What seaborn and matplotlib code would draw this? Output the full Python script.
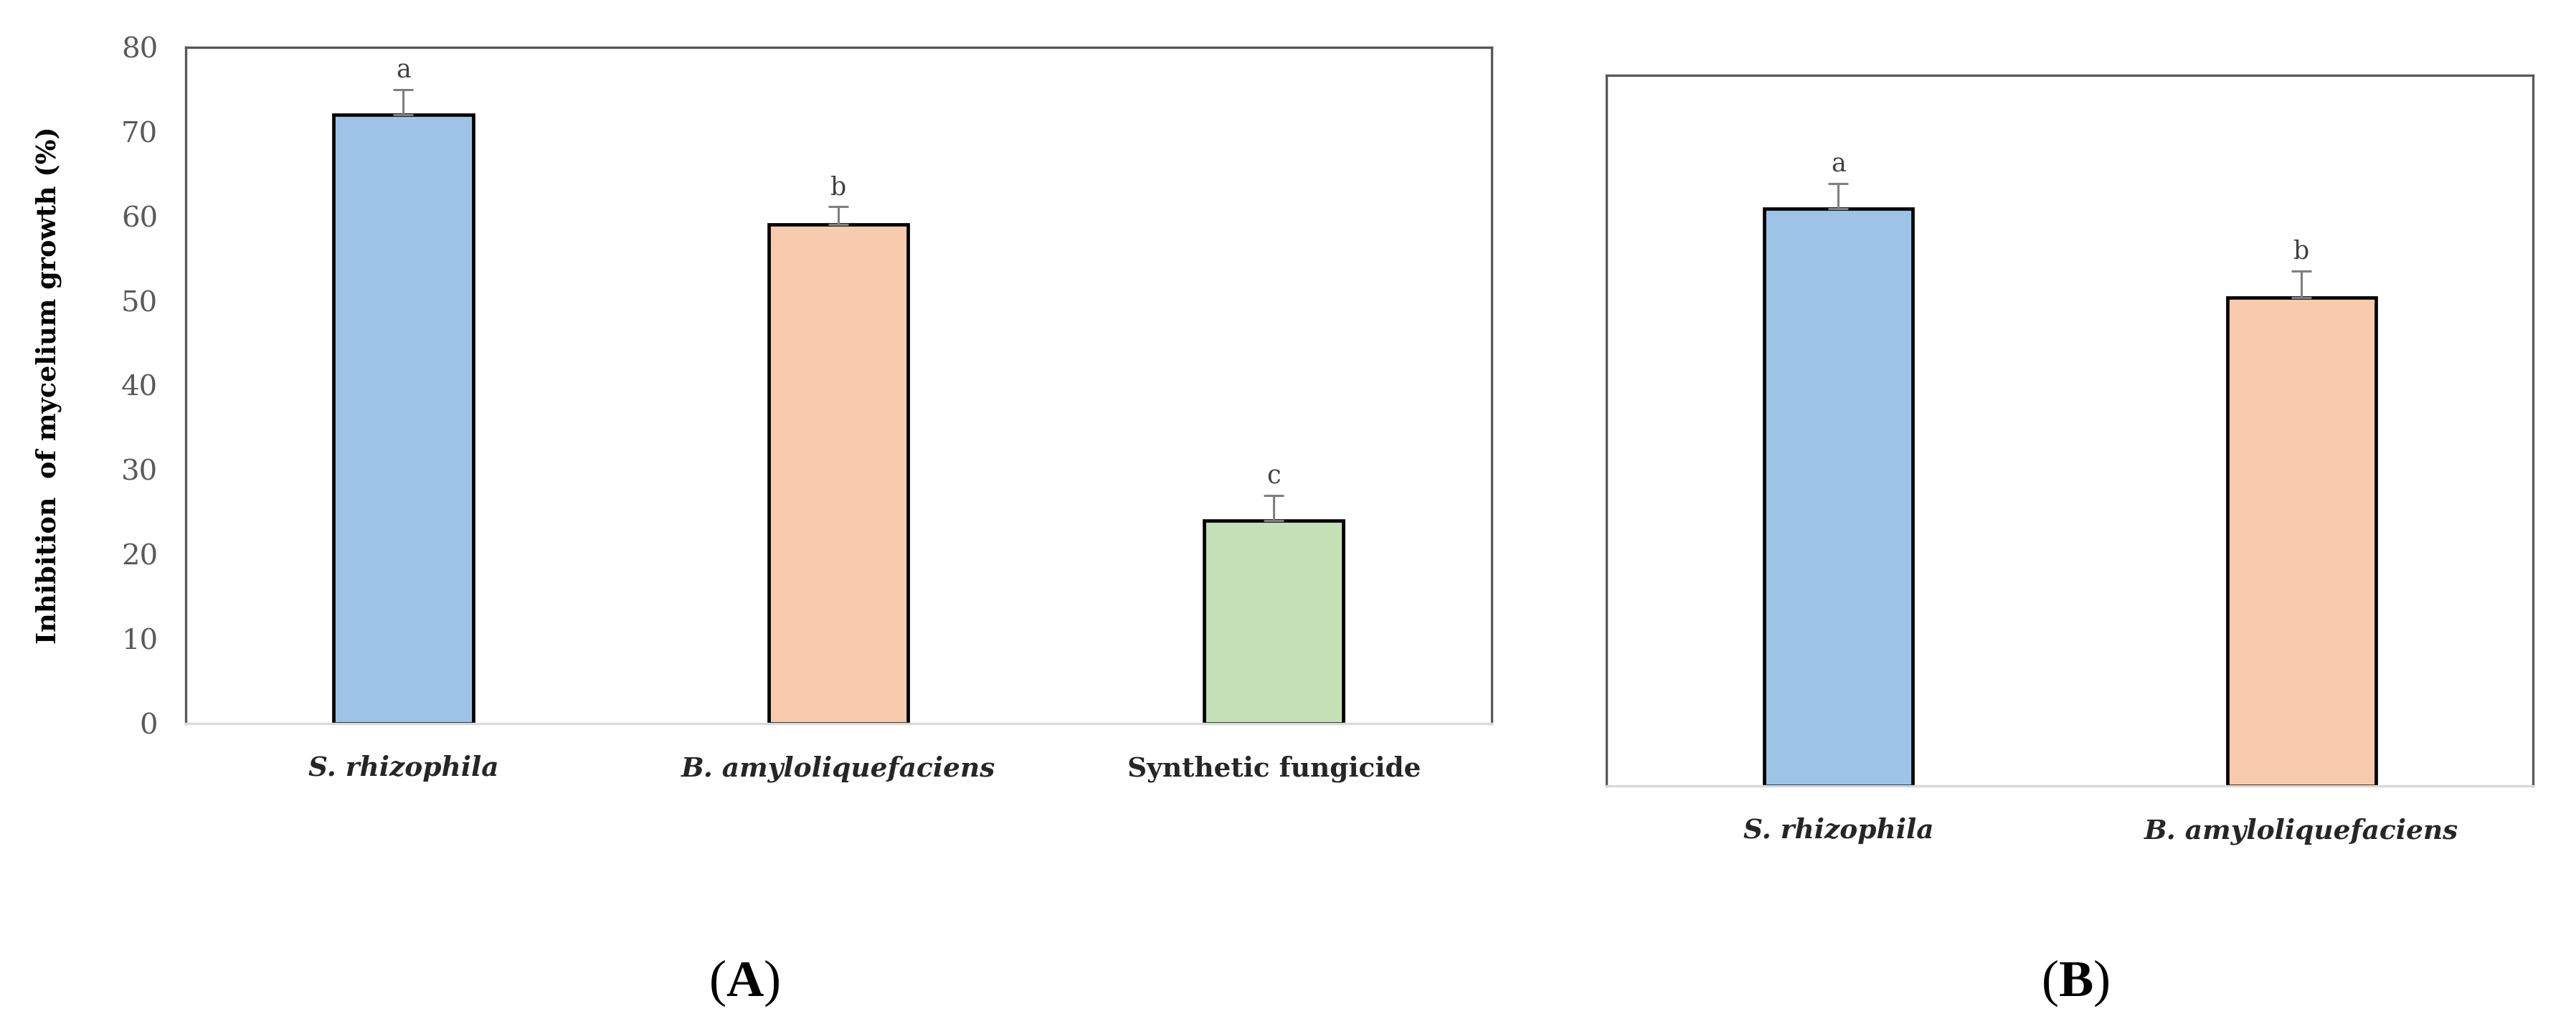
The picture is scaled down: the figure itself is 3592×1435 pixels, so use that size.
import matplotlib
matplotlib.use("Agg")
import matplotlib.pyplot as plt
import seaborn as sns
import pandas as pd
import numpy as np

# ---- data ----
cats_a = ["S. rhizophila", "B. amyloliquefaciens", "Synthetic fungicide"]
vals_a = [72.0, 59.0, 24.0]
errs_a = [3.0, 2.2, 3.0]
letters_a = ["a", "b", "c"]

cats_b = ["S. rhizophila", "B. amyloliquefaciens"]
vals_b = [65.0, 55.0]
errs_b = [2.8, 3.0]
letters_b = ["a", "b"]

colors = ["#9DC3E6", "#F8CBAD", "#C5E0B4"]
yticks_a = [0, 10, 20, 30, 40, 50, 60, 70, 80]
ylabel = "Inhibition  of mycelium growth (%)"

sns.set_theme(style="white")
plt.rcParams["font.family"] = ["DejaVu Serif"]
plt.rcParams["mathtext.fontset"] = "custom"
plt.rcParams["mathtext.bf"] = "Liberation Serif:bold"
plt.rcParams["mathtext.rm"] = "Liberation Serif"

W, H, DPI = 3592, 1435, 200
fig = plt.figure(figsize=(W / DPI, H / DPI), dpi=DPI)

axA = fig.add_axes([0.0721, 0.297, 0.579 - 0.0721, 0.954 - 0.297])
axB = fig.add_axes([0.6237, 0.2364, 0.9834 - 0.6237, 0.9265 - 0.2364])


def draw(ax, cats, vals, errs, letters, show_y):
    df = pd.DataFrame({"cat": cats, "val": vals})
    sns.barplot(data=df, x="cat", y="val", hue="cat", palette=colors[:len(cats)],
                width=0.32, edgecolor="black", linewidth=1.7, legend=False,
                errorbar=None, ax=ax, saturation=1)
    xs = np.arange(len(cats))
    ax.errorbar(xs, vals, yerr=[np.zeros(len(vals)), errs], fmt="none",
                ecolor="#7F7F7F", elinewidth=1.1, capsize=5, capthick=1.1, zorder=1)
    for x, v, e, l in zip(xs, vals, errs, letters):
        ax.text(x, v + e + 0.8, l, ha="center", va="bottom", fontsize=12.5,
                color="#404040", family="DejaVu Serif")
    ax.set_xlim(-0.5, len(cats) - 0.5)
    ax.set_ylim(0, 80)
    ax.set_xlabel("")
    ax.set_ylabel("")
    ax.tick_params(axis="both", length=0)
    ax.set_xticks(xs)
    ax.set_xticklabels(list(cats), fontsize=13.5, fontweight="bold", color="#262626")
    for t in ax.get_xticklabels():
        if t.get_text() != "Synthetic fungicide":
            t.set_fontstyle("italic")
    ax.tick_params(axis="x", pad=16)
    for s in ["left", "top", "right"]:
        ax.spines[s].set_color("#595959")
        ax.spines[s].set_linewidth(1.2)
        ax.spines[s].set_visible(True)
    ax.spines["bottom"].set_color("#D9D9D9")
    ax.spines["bottom"].set_linewidth(1.2)
    ax.spines["bottom"].set_visible(True)
    if show_y:
        ax.set_yticks(yticks_a)
        ax.set_yticklabels([str(v) for v in yticks_a], fontsize=14.5, color="#595959")
        ax.tick_params(axis="y", pad=14)
        ax.set_ylabel(ylabel, fontsize=13.2, fontweight="bold", color="black", labelpad=30)
    else:
        ax.set_yticks([])


draw(axA, cats_a, vals_a, errs_a, letters_a, True)
draw(axB, cats_b, vals_b, errs_b, letters_b, False)

fig.text(453 / 1568, 1 - 598 / 626, r"($\mathbf{A}$)", ha="center", va="center",
         fontsize=26, family="Liberation Serif", color="black")
fig.text(1263 / 1568, 1 - 598 / 626, r"($\mathbf{B}$)", ha="center", va="center",
         fontsize=26, family="Liberation Serif", color="black")

fig.savefig("out.png", dpi=DPI, facecolor="white")
